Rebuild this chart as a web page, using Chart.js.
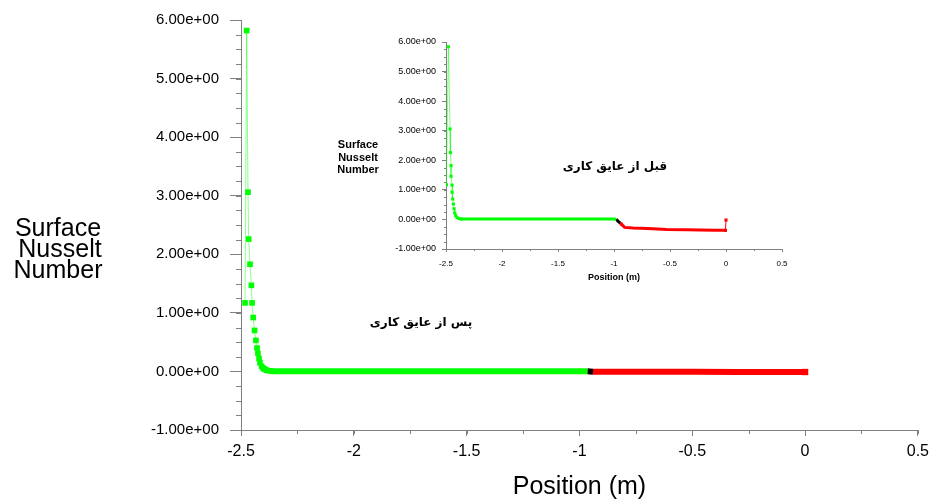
<!DOCTYPE html>
<html>
<head>
<meta charset="utf-8">
<script src="https://cdn.jsdelivr.net/npm/chart.js@4"></script>
<style>
  body { margin: 0; background: #fff; }
  #wrap { position: relative; width: 935px; height: 502px; }
  #mainChart { position: absolute; left: 0; top: 0; }
  #insetChart { position: absolute; left: 330px; top: 28px; }
</style>
</head>
<body>
<div id="wrap">
  <canvas id="mainChart" width="935" height="502"></canvas>
  <canvas id="insetChart" width="470" height="262"></canvas>
</div>
<script>
// tick labels
const xTickLabels = ['-2.5', '-2', '-1.5', '-1', '-0.5', '0', '0.5'];
const yTickLabels = ['-1.00e+00', '0.00e+00', '1.00e+00', '2.00e+00', '3.00e+00', '4.00e+00', '5.00e+00', '6.00e+00'];

// main chart: after insulation
const afterSpikeX = [-2.482, -2.475, -2.469, -2.466, -2.460, -2.454, -2.451, -2.446, -2.440, -2.434, -2.429, -2.425, -2.420, -2.416, -2.409, -2.403, -2.398, -2.392, -2.386, -2.375, -2.364];
const afterSpikeY = [1.17, 5.82, 3.06, 2.26, 1.83, 1.47, 1.17, 0.92, 0.70, 0.53, 0.40, 0.31, 0.22, 0.15, 0.09, 0.06, 0.045, 0.03, 0.02, 0.01, 0.005];
const afterFlatX = [-2.364, -2.2, -2.0, -1.8, -1.6, -1.4, -1.2, -1.0, -0.965];
const afterFlatY = [0.005, 0.003, 0.002, 0.002, 0.002, 0.002, 0.002, 0.002, 0.002];
const afterJoinX = [-0.965, -0.94];
const afterJoinY = [0.002, -0.004];
const afterRedX = [-0.94, -0.7, -0.5, -0.3, -0.1, 0];
const afterRedY = [-0.004, -0.006, -0.007, -0.008, -0.009, -0.01];

// inset chart: before insulation
const beforeSpikeX = [-2.496, -2.479, -2.464, -2.461, -2.455, -2.455, -2.446, -2.446, -2.440, -2.434, -2.428, -2.422, -2.413, -2.402, -2.384, -2.362];
const beforeSpikeY = [1.17, 5.84, 3.06, 2.26, 1.82, 1.46, 1.16, 0.92, 0.69, 0.52, 0.36, 0.22, 0.13, 0.06, 0.03, 0.015];
const beforeFlatX = [-2.362, -2.0, -1.5, -1.0, -0.98];
const beforeFlatY = [0.015, 0.014, 0.014, 0.014, 0.01];
const beforeJoinX = [-0.98, -0.965, -0.945];
const beforeJoinY = [0.01, -0.06, -0.12];
const beforeRedX = [-0.945, -0.934, -0.905, -0.83, -0.7, -0.53, -0.35, -0.235, -0.1, -0.005, 0];
const beforeRedY = [-0.12, -0.16, -0.27, -0.29, -0.31, -0.34, -0.35, -0.36, -0.365, -0.37, -0.02];

const GREEN = '#00ff00';
const RED = '#ff0000';
const AXIS = '#808080';

Chart.defaults.font.family = 'Liberation Sans, Arial, sans-serif';
Chart.defaults.color = '#000';

function pts(xs, ys) {
  return xs.map((x, i) => ({ x: x, y: ys[i] }));
}

// Chart.js has no minor ticks, draw them from the scales
const minorTicks = {
  id: 'minorTicks',
  afterDraw(chart, args, opts) {
    const ctx = chart.ctx;
    const xs = chart.scales.x, ys = chart.scales.y;
    ctx.save();
    ctx.strokeStyle = AXIS;
    ctx.lineWidth = 1;
    ctx.beginPath();
    for (let v = xs.min; v <= xs.max + 1e-9; v += opts.xStep) {
      const px = Math.round(xs.getPixelForValue(v)) + 0.5;
      ctx.moveTo(px, xs.top);
      ctx.lineTo(px, xs.top + opts.xLen);
    }
    for (let v = ys.min; v <= ys.max + 1e-9; v += opts.yStep) {
      const py = Math.round(ys.getPixelForValue(v)) + 0.5;
      ctx.moveTo(ys.right - opts.yLen, py);
      ctx.lineTo(ys.right, py);
    }
    ctx.stroke();
    ctx.restore();
  }
};

const freeText = {
  id: 'freeText',
  afterDraw(chart, args, opts) {
    const ctx = chart.ctx;
    ctx.save();
    ctx.fillStyle = '#000';
    ctx.textAlign = 'center';
    ctx.textBaseline = 'middle';
    opts.items.forEach(t => {
      ctx.font = t.font;
      ctx.fillText(t.text, t.x, t.y);
    });
    ctx.restore();
  }
};

function axisOpts(tickLen, fontSize, fit) {
  return {
    type: 'linear',
    grid: { drawOnChartArea: false, tickLength: tickLen, color: AXIS, tickColor: AXIS },
    border: { color: AXIS, width: 1 },
    ticks: { color: '#000', font: { size: fontSize }, autoSkip: false, maxRotation: 0 },
    afterFit: fit
  };
}

// main chart
const mx = axisOpts(6, 16, s => { s.height = 72; });
mx.min = -2.5; mx.max = 0.5;
mx.ticks.stepSize = 0.5;
mx.ticks.padding = 6;
mx.ticks.callback = (v, i) => xTickLabels[i];
mx.title = { display: true, text: 'Position (m)', font: { size: 25 }, color: '#000', padding: { top: 0, bottom: 0 } };

const my = axisOpts(11, 15, s => { s.width = 241; });
my.min = -1; my.max = 6;
my.ticks.stepSize = 1;
my.ticks.padding = 11;
my.ticks.callback = (v, i) => yTickLabels[i];

new Chart(document.getElementById('mainChart'), {
  type: 'scatter',
  data: {
    datasets: [
      { data: pts(afterSpikeX, afterSpikeY), showLine: true, borderColor: 'rgba(0,255,0,0.45)', borderWidth: 1,
        pointStyle: 'rect', pointRadius: 4, pointBackgroundColor: GREEN, pointBorderWidth: 0 },
      { data: pts(afterFlatX, afterFlatY), showLine: true, borderColor: GREEN, borderWidth: 6, pointRadius: 0 },
      { data: pts(afterJoinX, afterJoinY), showLine: true, borderColor: '#000', borderWidth: 6, pointRadius: 0 },
      { data: pts(afterRedX, afterRedY), showLine: true, borderColor: RED, borderWidth: 6, pointStyle: 'rect',
        pointRadius: c => c.dataIndex === afterRedX.length - 1 ? 4.5 : 0, pointBackgroundColor: RED, pointBorderWidth: 0 }
    ]
  },
  options: {
    responsive: false,
    animation: false,
    devicePixelRatio: 1,
    layout: { padding: { left: 0, right: 15, top: 19, bottom: 0 } },
    plugins: {
      legend: { display: false },
      tooltip: { enabled: false },
      minorTicks: { xStep: 0.25, xLen: 4, yStep: 0.25, yLen: 5 },
      freeText: {
        items: [
          { text: 'Surface', x: 58, y: 229, font: '25px Liberation Sans, Arial, sans-serif' },
          { text: 'Nusselt', x: 60, y: 250, font: '25px Liberation Sans, Arial, sans-serif' },
          { text: 'Number', x: 58, y: 271, font: '25px Liberation Sans, Arial, sans-serif' },
          { text: 'پس از عایق کاری', x: 421, y: 323, font: 'bold 12px DejaVu Sans, sans-serif' }
        ]
      }
    },
    scales: { x: mx, y: my }
  },
  plugins: [minorTicks, freeText]
});

// inset chart
const ix = axisOpts(3, 8, s => { s.height = 41; });
ix.min = -2.5; ix.max = 0.5;
ix.ticks.stepSize = 0.5;
ix.ticks.padding = 7;
ix.ticks.callback = (v, i) => xTickLabels[i];
ix.title = { display: true, text: 'Position (m)', font: { size: 9, weight: 'bold' }, color: '#000', padding: { top: 0, bottom: 7 } };

const iy = axisOpts(4, 9, s => { s.width = 116; });
iy.min = -1; iy.max = 6;
iy.ticks.stepSize = 1;
iy.ticks.padding = 6;
iy.ticks.callback = (v, i) => yTickLabels[i];

new Chart(document.getElementById('insetChart'), {
  type: 'scatter',
  data: {
    datasets: [
      { data: pts(beforeSpikeX, beforeSpikeY), showLine: true, borderColor: 'rgba(0,255,0,0.5)', borderWidth: 1,
        pointStyle: 'rect', pointRadius: 2.2, pointBackgroundColor: GREEN, pointBorderWidth: 0 },
      { data: pts(beforeFlatX, beforeFlatY), showLine: true, borderColor: GREEN, borderWidth: 3, pointRadius: 0 },
      { data: pts(beforeJoinX, beforeJoinY), showLine: true, borderColor: '#000', borderWidth: 3, pointRadius: 0 },
      { data: pts(beforeRedX, beforeRedY), showLine: true, borderColor: RED, borderWidth: 3,
        segment: { borderWidth: c => c.p1DataIndex === beforeRedX.length - 1 ? 1 : 3 },
        pointStyle: 'rect',
        pointRadius: c => (c.dataIndex === 1 || c.dataIndex >= beforeRedX.length - 2) ? 2.2 : 0,
        pointBackgroundColor: RED, pointBorderWidth: 0 }
    ]
  },
  options: {
    responsive: false,
    animation: false,
    devicePixelRatio: 1,
    layout: { padding: { left: 0, right: 18, top: 14, bottom: 0 } },
    plugins: {
      legend: { display: false },
      tooltip: { enabled: false },
      minorTicks: { xStep: 0.25, xLen: 2, yStep: 0.25, yLen: 2 },
      freeText: {
        items: [
          { text: 'Surface', x: 28, y: 117, font: 'bold 11px Liberation Sans, Arial, sans-serif' },
          { text: 'Nusselt', x: 28, y: 130, font: 'bold 11px Liberation Sans, Arial, sans-serif' },
          { text: 'Number', x: 28, y: 142, font: 'bold 11px Liberation Sans, Arial, sans-serif' },
          { text: 'قبل از عایق کاری', x: 285, y: 139, font: 'bold 12px DejaVu Sans, sans-serif' }
        ]
      }
    },
    scales: { x: ix, y: iy }
  },
  plugins: [minorTicks, freeText]
});
</script>
</body>
</html>
